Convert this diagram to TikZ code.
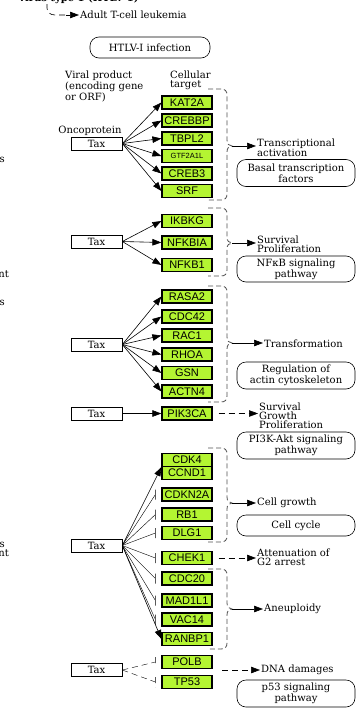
\documentclass[tikz,border=0pt]{standalone}
\usepackage{fontspec}
\setmainfont{DejaVu Serif}
\setsansfont{Liberation Sans}
\usetikzlibrary{arrows.meta, shapes}

\definecolor{genefill}{RGB}{180,245,50}
\definecolor{bracegray}{RGB}{80,80,80}

\tikzset{
  gene/.style={draw, line width=1.2pt, fill=genefill, minimum width=50, minimum height=13, inner sep=0pt, font=\sffamily\fontsize{11}{10}\selectfont},
  taxbox/.style={draw, line width=0.6pt, minimum width=51, minimum height=13, inner sep=0pt, font=\fontsize{10}{9}\selectfont},
  pathbox/.style={draw, line width=0.6pt, rounded corners=9pt, minimum width=118, minimum height=27, inner sep=1pt, align=center, font=\fontsize{10}{9}\selectfont},
  lbl/.style={inner sep=1pt, align=left, font=\fontsize{10}{9}\selectfont},
  act/.style={line width=0.6pt, -{Triangle[length=9pt,width=6.5pt]}},
  inhibit/.style={line width=0.6pt, to path={-- ([xshift=-6]\tikztotarget.west) +(0,-5) -- +(0,5)}},
  dashes/.style={dash pattern=on 6pt off 4pt},
  braceline/.style={bracegray, line width=0.8pt, dash pattern=on 5pt off 3pt}
}

% group brace: #1 cusp name, #2 top, #3 cusp, #4 bottom
\newcommand{\groupbrace}[4]{%
  \draw[braceline] (208,#2) -- (221,#2) .. controls (225,#2) and (227,#2+2) .. (227,#2+6) -- (227,#3-6)
    .. controls (227,#3-2) and (229,#3) .. (232,#3) .. controls (229,#3) and (227,#3+2) .. (227,#3+6)
    -- (227,#4-6) .. controls (227,#4-2) and (225,#4) .. (221,#4) -- (208,#4);
  \coordinate (#1) at (232,#3);
}

\begin{document}
\begin{tikzpicture}[x=1pt,y=1pt,yscale=-1]
    \useasboundingbox (0,0) rectangle (356,715);
    \clip (0,0) rectangle (356,715);

    % top of the map
    \node[lbl, anchor=south west, font=\bfseries\fontsize{10}{9}\selectfont] (title) at (18,5) {virus type 1 (HTLV-1)};
    \node[lbl, anchor=west] (atl) at (79,15) {Adult T-cell leukemia};
    \draw[line width=0.6pt, dashes] (47,-6) -- (47,8) .. controls (47,12) and (50,15) .. (55,15) -- (68,15);
    \draw[act] (66,15) -- (atl.west);
    \node[pathbox, minimum width=120, minimum height=21] (htlv) at (150,47.5) {HTLV-I infection};

    % cut-off labels on the left edge
    \node[lbl, anchor=east] (fragA) at (6,160) {s};
    \node[lbl, anchor=east] (fragB) at (10,274) {nt};
    \node[lbl, anchor=east] (fragC) at (6,303) {s};
    \node[lbl, anchor=east] (fragD) at (6,545) {s};
    \node[lbl, anchor=east] (fragE) at (10,553) {nt};

    % headings
    \node[lbl, anchor=north west] (viral) at (64,70) {Viral product\\(encoding gene\\or ORF)};
    \node[lbl, anchor=north west] (cell) at (169,70) {Cellular\\target};
    \node[lbl] (onco) at (90,131) {Oncoprotein};

    % Transcriptional activation
    \node[taxbox] (tax1) at (96.5,143.5) {Tax};
    \node[gene] (kat) at (187,102.5) {KAT2A};
    \node[gene] (crebbp) at (187,120.5) {CREBBP};
    \node[gene] (tbpl) at (187,138.5) {TBPL2};
    \node[gene, font=\sffamily\fontsize{7.5}{8}\selectfont] (gtf) at (187,156) {GTF2A1L};
    \node[gene] (creb) at (187,173.5) {CREB3};
    \node[gene] (srf) at (187,191) {SRF};
    \draw[act] (tax1.east) -- (kat.west);
    \draw[act] (tax1.east) -- (crebbp.west);
    \draw[act] (tax1.east) -- (tbpl.west);
    \draw[act] (tax1.east) -- (gtf.west);
    \draw[act] (tax1.east) -- (creb.west);
    \draw[act] (tax1.east) -- (srf.west);
    \groupbrace{cuspA}{89}{146}{200}
    \node[lbl, anchor=west] (trans) at (256,147.5) {Transcriptional\\activation};
    \draw[act] (cuspA) -- (cuspA -| trans.west);
    \node[pathbox] (basal) at (296,173) {Basal transcription\\factors};

    % Survival / Proliferation
    \node[taxbox] (tax2) at (96.5,241.5) {Tax};
    \node[gene] (ikbkg) at (187,221) {IKBKG};
    \node[gene] (nfkbia) at (187,242.5) {NFKBIA};
    \node[gene] (nfkb) at (187,265) {NFKB1};
    \draw[act] (tax2.east) -- (ikbkg.west);
    \draw[act] (tax2.east) -- (nfkbia.west);
    \draw[act] (tax2.east) -- (nfkb.west);
    \groupbrace{cuspB}{208}{243}{276}
    \node[lbl, anchor=west] (survA) at (256,244) {Survival\\Proliferation};
    \draw[act] (cuspB) -- (cuspB -| survA.west);
    \node[pathbox, minimum height=26] (nfkbpw) at (296,269) {NFκB signaling\\pathway};

    % Transformation
    \node[taxbox] (tax3) at (96.5,344.5) {Tax};
    \node[gene] (rasa) at (187,296.5) {RASA2};
    \node[gene] (cdc42) at (187,316.5) {CDC42};
    \node[gene] (rac) at (187,335.5) {RAC1};
    \node[gene] (rhoa) at (187,354.5) {RHOA};
    \node[gene] (gsn) at (187,373) {GSN};
    \node[gene] (actn) at (187,391.5) {ACTN4};
    \draw[act] (tax3.east) -- (rasa.west);
    \draw[act] (tax3.east) -- (cdc42.west);
    \draw[act] (tax3.east) -- (rac.west);
    \draw[act] (tax3.east) -- (rhoa.west);
    \draw[act] (tax3.east) -- (gsn.west);
    \draw[act] (tax3.east) -- (actn.west);
    \groupbrace{cuspC}{286}{343}{402}
    \node[lbl, anchor=west] (transf) at (263,344) {Transformation};
    \draw[act] (cuspC) -- (cuspC -| transf.west);
    \node[pathbox] (actin) at (296,375.5) {Regulation of\\actin cytoskeleton};

    % PI3K-Akt
    \node[taxbox] (tax4) at (96.5,413.5) {Tax};
    \node[gene] (pik) at (187,413.5) {PIK3CA};
    \draw[act] (tax4.east) -- (pik.west);
    \node[lbl, anchor=west] (survB) at (258,416) {Survival\\Growth\\Proliferation};
    \draw[act, dashes, shorten <=6pt] (pik.east) -- (pik.east -| survB.west);
    \node[pathbox] (pikpw) at (296,445.5) {PI3K-Akt signaling\\pathway};

    % Cell growth / Aneuploidy
    \node[taxbox] (tax5) at (96.5,545.5) {Tax};
    \node[gene] (cdk) at (187,460) {CDK4};
    \node[gene] (ccnd) at (187,473) {CCND1};
    \node[gene] (cdkn) at (187,494.5) {CDKN2A};
    \node[gene] (rb) at (187,514.5) {RB1};
    \node[gene] (dlg) at (187,533) {DLG1};
    \node[gene] (chek) at (187,558) {CHEK1};
    \node[gene] (cdc20) at (187,578.5) {CDC20};
    \node[gene] (mad) at (187,600.5) {MAD1L1};
    \node[gene] (vac) at (187,619.5) {VAC14};
    \node[gene] (ran) at (187,639) {RANBP1};
    \draw[act] (tax5.east) -- (cdk.south west);
    \draw (tax5.east) to[inhibit] (cdkn);
    \draw (tax5.east) to[inhibit] (rb);
    \draw (tax5.east) to[inhibit] (dlg);
    \draw (tax5.east) to[inhibit] (chek);
    \draw (tax5.east) to[inhibit] (cdc20);
    \draw (tax5.east) to[inhibit] (mad);
    \draw (tax5.east) to[inhibit] (vac);
    \draw[act] (tax5.east) -- (ran.west);
    \groupbrace{cuspD}{448}{503}{542}
    \node[lbl, anchor=west] (growth) at (256,503) {Cell growth};
    \draw[act] (cuspD) -- (cuspD -| growth.west);
    \node[pathbox, minimum height=21] (cycle) at (296,525.5) {Cell cycle};
    \node[lbl, anchor=west] (atten) at (256,557.5) {Attenuation of\\G2 arrest};
    \draw[act, dashes, shorten <=6pt] (chek.east) -- (chek.east -| atten.west);
    \groupbrace{cuspE}{569}{609}{649}
    \node[lbl, anchor=west] (aneu) at (263,609) {Aneuploidy};
    \draw[act] (cuspE) -- (cuspE -| aneu.west);

    % DNA damages
    \node[taxbox] (tax6) at (96.5,670) {Tax};
    \node[gene] (polb) at (187,662) {POLB};
    \node[gene] (tp53) at (187,682) {TP53};
    \draw[dashes] (tax6.east) to[inhibit] (polb);
    \draw[dashes] (tax6.east) to[inhibit] (tp53);
    \coordinate (dnaStart) at (222,670);
    \node[lbl, anchor=west] (dna) at (260,670) {DNA damages};
    \draw[act, dashes] (dnaStart) -- (dna.west);
    \node[pathbox] (p53pw) at (296,693.5) {p53 signaling\\pathway};
\end{tikzpicture}
\end{document}
